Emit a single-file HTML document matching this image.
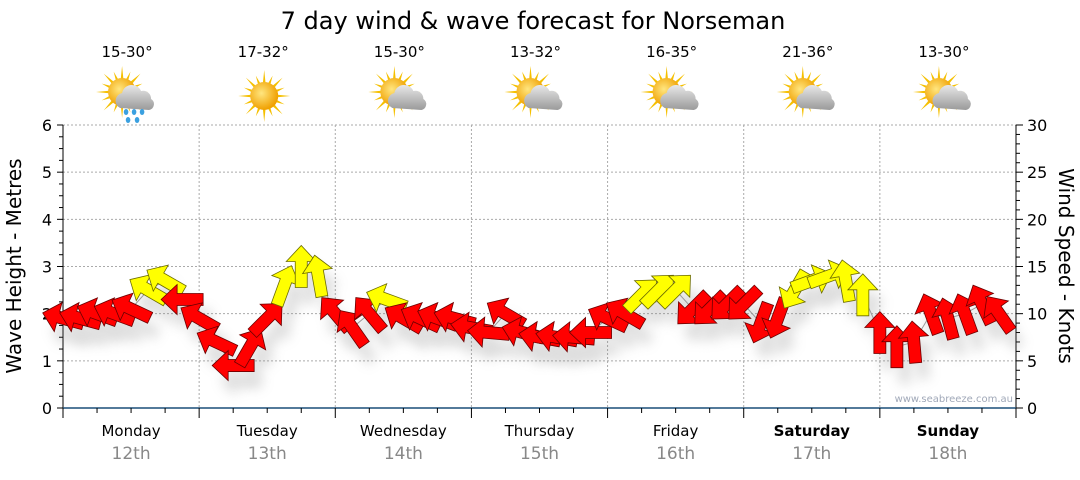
<!DOCTYPE html>
<html><head><meta charset="utf-8">
<style>
html,body{margin:0;padding:0;background:#fff;}
body{width:1080px;height:475px;overflow:hidden;font-family:"Liberation Sans",sans-serif;}
text{font-family:"DejaVu Sans","Liberation Sans",sans-serif;}
</style></head>
<body>
<svg id="chart" width="1080" height="475" viewBox="0 0 1080 475" xmlns="http://www.w3.org/2000/svg">
<defs>
<filter id="sh" x="-50%" y="-50%" width="200%" height="200%"><feGaussianBlur stdDeviation="6"/></filter>
<radialGradient id="sun" cx="0.4" cy="0.4" r="0.6"><stop offset="0" stop-color="#ffe680"/><stop offset="1" stop-color="#f0a000"/></radialGradient>
<linearGradient id="cloud" x1="0" y1="0" x2="0" y2="1"><stop offset="0" stop-color="#e8e8e8"/><stop offset="1" stop-color="#9a9a9a"/></linearGradient>
</defs>
<text x="533" y="29" font-size="24" text-anchor="middle" fill="#000">7 day wind &amp; wave forecast for Norseman</text>
<g id="grid"></g>
<g id="axes"></g>
<g id="icons"></g>
<g id="shadows" opacity="0.25"></g>
<g id="marks"></g>
<text transform="translate(21,266) rotate(-90)" font-size="20" text-anchor="middle">Wave Height - Metres</text>
<text transform="translate(1059,266) rotate(90)" font-size="20" text-anchor="middle">Wind Speed - Knots</text>
<text x="1013" y="402" font-size="10" text-anchor="end" fill="#a0a8b8">www.seabreeze.com.au</text>
</svg>
<script>
const days = ["Monday","Tuesday","Wednesday","Thursday","Friday","Saturday","Sunday"];
const dates = ["12th","13th","14th","15th","16th","17th","18th"];
const boldDays = [false,false,false,false,false,true,true];
const temps = ["15-30°","17-32°","15-30°","13-32°","16-35°","21-36°","13-30°"];
const weather = ["rain","sun","cloud","cloud","cloud","cloud","cloud"];
const waveTicks = [0,1,2,3,4,5,6];
const windTicks = [0,5,10,15,20,25,30];
// wind every 3 hours from Monday 00:00
const windSpeed = [9.5,9.5,10,10,10.5,12.5,13.5,11.5,
  9.5,7,4.5,6.5,9.5,13,15,14,
  10,8.5,10,11.5,9.5,9.5,9.5,9.5,
  8.5,8,10,8,7.5,7.5,7.5,8,
  9.5,10,12,12.5,12.5,10.5,10.5,11,
  11,9,9.5,12.5,13.5,14,13.5,12,
  8,6.5,7,10,9.5,10,11,10];
const windDir = [165,165,160,160,155,150,150,180,
  150,155,180,60,45,70,90,100,
  130,125,130,160,150,155,160,165,
  170,175,150,165,170,170,175,180,
  155,150,45,45,45,225,225,225,
  225,250,250,240,20,20,100,90,
  90,90,95,110,105,110,115,125];
const windColor = ["r","r","r","r","r","y","y","r",
  "r","r","r","r","r","y","y","y",
  "r","r","r","y","r","r","r","r",
  "r","r","r","r","r","r","r","r",
  "r","r","y","y","y","r","r","r",
  "r","r","r","y","y","y","y","y",
  "r","r","r","r","r","r","r","r"];

const NS="http://www.w3.org/2000/svg";
const X0=63,X1=1016,Y0=408,Y1=125;
const xT=h=>X0+h*(X1-X0)/168;
const yW=m=>Y0-m*(Y0-Y1)/6;
const yK=k=>Y0-k*(Y0-Y1)/30;
function mk(tag,attrs,parent){const e=document.createElementNS(NS,tag);for(const k in attrs)e.setAttribute(k,attrs[k]);parent.appendChild(e);return e;}
const grid=document.getElementById('grid'),axes=document.getElementById('axes'),icons=document.getElementById('icons'),marks=document.getElementById('marks'),shadows=document.getElementById('shadows');

waveTicks.forEach(v=>{
  if(v>0){const l=mk('line',{x1:X0,x2:X1,y1:yW(v),y2:yW(v),stroke:'#aaa','stroke-dasharray':'2,2'},grid);
  
  }
  const t=mk('text',{x:52,y:yW(v)+6,'font-size':16,'text-anchor':'end',fill:'#000'},axes);t.textContent=v;
  
  
});
for(let q=0;q<=24;q++){mk('line',{x1:q%4==0?57:59,x2:X0,y1:yW(q/4),y2:yW(q/4),stroke:'#000'},axes);}
windTicks.forEach(v=>{
  const t=mk('text',{x:1027,y:yK(v)+6,'font-size':16,fill:'#000'},axes);t.textContent=v;
  
  
});
for(let k=0;k<=30;k++){mk('line',{x1:X1,x2:k%5==0?1023:1020,y1:yK(k),y2:yK(k),stroke:'#000'},axes);}
mk('line',{x1:X0,x2:X0,y1:Y1,y2:Y0,stroke:'#000'},axes);
mk('line',{x1:X1,x2:X1,y1:Y1,y2:Y0,stroke:'#000'},axes);
mk('line',{x1:X0,x2:X1,y1:Y0,y2:Y0,stroke:'#1a4f78','stroke-width':1.5},axes);
for(let h=0;h<=168;h+=6){mk('line',{x1:xT(h),x2:xT(h),y1:Y0,y2:h%24==0?418:413,stroke:'#000'},axes);}
days.forEach((d,i)=>{
  const cx=xT(i*24+12);
  if(i>0){const g=mk('line',{x1:xT(i*24),x2:xT(i*24),y1:Y1,y2:Y0,stroke:'#aaa','stroke-dasharray':'2,2'},grid);
  
  }
  const t=mk('text',{x:cx,y:436,'font-size':15,'text-anchor':'middle','font-weight':boldDays[i]?'bold':'normal',fill:'#000'},axes);t.textContent=d;
  
  
  const dt=mk('text',{x:cx,y:459,'font-size':17,'text-anchor':'middle',fill:'#888'},axes);dt.textContent=dates[i];
  
  
  const tt=mk('text',{x:cx-4,y:57,'font-size':15,'text-anchor':'middle',fill:'#000'},icons);tt.textContent=temps[i];
  
  
  const g=mk('g',{transform:`translate(${cx-3},${96})`},icons);
  
  
  const sx=weather[i]=='sun'?0:-6, sy=weather[i]=='sun'?0:-4;
  for(let a=0;a<16;a++){const an=a*Math.PI/8,r1=a%2?22:26;mk('polygon',{points:`${sx+Math.cos(an-0.12)*12},${sy+Math.sin(an-0.12)*12} ${sx+Math.cos(an)*r1},${sy+Math.sin(an)*r1} ${sx+Math.cos(an+0.12)*12},${sy+Math.sin(an+0.12)*12}`,fill:'#f5c000'},g);}
  mk('circle',{cx:sx,cy:sy,r:14,fill:'url(#sun)'},g);
  if(weather[i]!='sun'){
    mk('path',{d:'M-8,12 a8,8 0 0 1 2,-15 a10,10 0 0 1 19,-2 a8,8 0 0 1 10,8 a6,6 0 0 1 -2,11 z',fill:'url(#cloud)'},g);
  }
  if(weather[i]=='rain'){[[-2,16],[6,16],[14,16],[0,24],[9,24]].forEach(p=>mk('ellipse',{cx:p[0],cy:p[1],rx:2.3,ry:3,fill:'#3aa0e0'},g));}
});

// wind arrows
const pts=[];
windSpeed.forEach((s,i)=>pts.push([xT(i*3),yK(s)]));
const ln=mk('polyline',{points:pts.map(p=>p.join(',')).join(' '),fill:'none',stroke:'#999','stroke-width':1},marks);


const arrowPts="-21,-6 5,-6 5,-15 21,0 5,15 5,6 -21,6";
windSpeed.forEach((s,i)=>{
  const x=xT(i*3),y=yK(s),rot=-windDir[i];
  mk('polygon',{points:arrowPts,transform:`translate(${x+8},${y+16}) rotate(${rot})`,fill:'#777',filter:'url(#sh)'},shadows);
  const yel=windColor[i]=='y';
  const a=mk('polygon',{points:arrowPts,transform:`translate(${x},${y}) rotate(${rot})`,fill:yel?'#ffff00':'#ff0000',stroke:yel?'#6b6b00':'#6b0000','stroke-width':0.8},marks);
  
  
});
</script>
</body></html>
